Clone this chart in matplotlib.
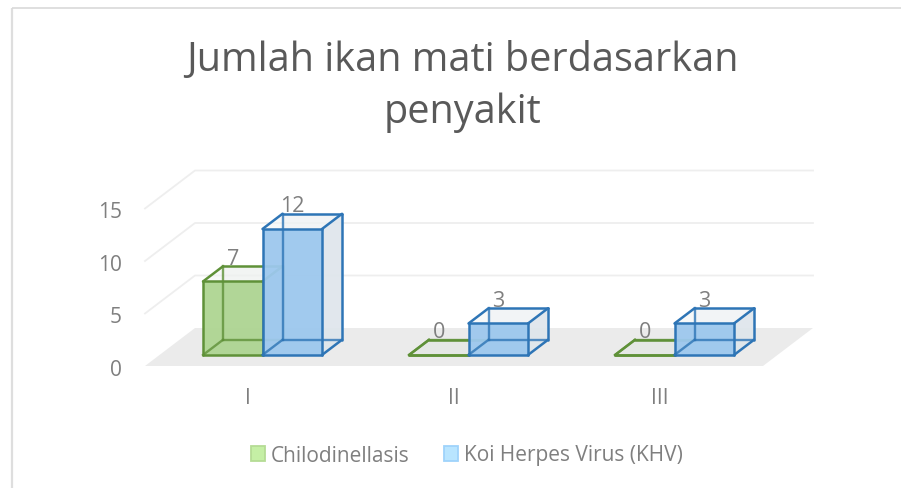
import matplotlib
matplotlib.use("Agg")
import matplotlib.pyplot as plt
from matplotlib.patches import Polygon, Rectangle

categories = ["I", "II", "III"]
series_names = ["Chilodinellasis", "Koi Herpes Virus (KHV)"]
chilodinellasis = [7, 0, 0]
khv = [12, 3, 3]
y_ticks = [0, 5, 10, 15]
title_text = "Jumlah ikan mati berdasarkan\npenyakit"

W, H = 901, 489
PX_CAT = 206.0
PX_VAL = 10.5
BASE_Y = 367
DEPTH_X = 50 / PX_CAT
DEPTH_Y = 38 / PX_VAL
BAR_W = 59.5 / PX_CAT
D0, D1 = 0.29, 0.69
GREY = "#7f7f7f"

plt.rcParams["font.family"] = ["Open Sans", "DejaVu Sans"]
fig = plt.figure(figsize=(W / 100, H / 100), dpi=100, facecolor="white")
bg = fig.add_axes([0, 0, 1, 1])
bg.set_xlim(0, W); bg.set_ylim(H, 0); bg.axis("off")
bg.plot([12, 12], [8.5, H], color="#dedede", lw=1.6, solid_capstyle="butt")
bg.plot([12, W], [8.5, 8.5], color="#d9d9d9", lw=1.2, solid_capstyle="butt")

ax = fig.add_axes([145 / W, (H - BASE_Y) / H, 670 / W, 196 / H])
ax.set_xlim(-0.5, -0.5 + 670 / PX_CAT)
ax.set_ylim(0, 196 / PX_VAL)
ax.axis("off")


def proj(x, v, d):
    return (x + d * DEPTH_X, v + d * DEPTH_Y)


xl, xr = -0.5, len(categories) - 0.5
ax.add_patch(Polygon([proj(xl, 0, 0), proj(xr, 0, 0), proj(xr, 0, 1), proj(xl, 0, 1)],
                     fc="#ebebeb", ec="none", zorder=1))
for t in y_ticks[1:]:
    pts = [proj(xl, t, 0), proj(xl, t, 1), proj(xr, t, 1)]
    ax.plot(*zip(*pts), color="#eeeeee", lw=1.3, zorder=1, clip_on=False)

for t in y_ticks:
    ax.text(xl - 23 / PX_CAT, t - 3.5 / PX_VAL, str(t), ha="right", va="center",
            fontsize=15, color=GREY)


def box(x0, v, face, edge, side, z):
    x1 = x0 + BAR_W
    bf = [proj(x0, 0, D0), proj(x1, 0, D0), proj(x1, v, D0), proj(x0, v, D0)]
    bb = [proj(x0, 0, D1), proj(x1, 0, D1), proj(x1, v, D1), proj(x0, v, D1)]
    quads = [
        ([bb[0], bb[1], bb[2], bb[3]], side, 0.45),
        ([bf[1], bb[1], bb[2], bf[2]], side, 0.85),
        ([bf[3], bf[2], bb[2], bb[3]], "#f4f6f6", 0.6),
        ([bf[0], bf[1], bb[1], bb[0]], side, 0.6),
        (bf, face, 0.95),
    ]
    for q, c, a in quads:
        ax.add_patch(Polygon(q, fc=c, ec="none", alpha=a, zorder=z, clip_on=False))
    hidden = [(bb[0], bb[1]), (bb[0], bb[3]), (bf[0], bb[0])]
    segs = [(bb[1], bb[2]), (bb[2], bb[3]),
            (bf[1], bb[1]), (bf[2], bb[2]), (bf[3], bb[3]),
            (bf[0], bf[1]), (bf[1], bf[2]), (bf[2], bf[3]), (bf[3], bf[0])]
    for a_, b_ in hidden:
        ax.plot(*zip(a_, b_), color=edge, lw=1.7, alpha=0.8, zorder=z + 0.1, clip_on=False)
    for a_, b_ in segs:
        ax.plot(*zip(a_, b_), color=edge, lw=1.8, zorder=z + 0.1, solid_capstyle="round", clip_on=False)


def value_label(x_center, v):
    # the label sits on the rear top edge, centred on the front face
    ax.text(x_center, v + D1 * DEPTH_Y - 2.5 / PX_VAL, str(v), ha="center", va="bottom",
            fontsize=15.5, color=GREY, zorder=6, clip_on=False)


for i, cat in enumerate(categories):
    left = i - BAR_W
    box(left, chilodinellasis[i], "#aed592", "#5f9138", "#dfe3de", 3)
    box(i, khv[i], "#9dc8ee", "#2e75b6", "#dfe6ec", 4)
    value_label(left + BAR_W / 2 + DEPTH_X * D0, chilodinellasis[i])
    value_label(i + BAR_W / 2 + DEPTH_X * D0, khv[i])
    ax.text(i, -32 / PX_VAL, cat, ha="center", va="center", fontsize=15, color=GREY, clip_on=False)

fig.text(462 / W, 1 - 86.5 / H, title_text, ha="center", va="center", fontsize=28.5,
         color="#595959", linespacing=1.38)

for (px, c, e), name in zip([(251, "#c5efa5", "#b5dc95"), (444, "#b9e5ff", "#9fd3fb")], series_names):
    bg.add_patch(Rectangle((px, 447), 14, 15, fc=c, ec=e, lw=1.3))
    bg.text(px + 20, 456, name, ha="left", va="center", fontsize=15, color=GREY)

fig.savefig("out.png", dpi=100)
